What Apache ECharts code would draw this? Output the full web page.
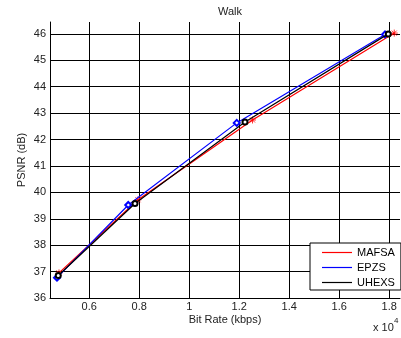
<!DOCTYPE html>
<html>
<head>
<meta charset="utf-8">
<script src="https://cdn.jsdelivr.net/npm/echarts@6/dist/echarts.min.js"></script>
<style>
  html, body { margin: 0; padding: 0; background: #fff; }
  #chart { width: 401px; height: 338px; }
</style>
</head>
<body>
<div id="chart"></div>
<script>
// Rate-distortion curves for the "Walk" sequence (bit rate in kbps, PSNR in dB)
const seriesNames = ['MAFSA', 'EPZS', 'UHEXS'];
const mafsa = [[4790, 36.95], [7950, 39.72], [12530, 42.74], [18200, 46.03]];
const epzs  = [[4710, 36.77], [7560, 39.52], [11900, 42.63], [17830, 45.98]];
const uhexs = [[4760, 36.85], [7830, 39.58], [12230, 42.66], [17960, 46.00]];

const xRange = [4430, 18430];
const yRange = [36, 46.45];

const textColor = '#222';
const fontFamily = '"Liberation Sans", Arial, Helvetica, sans-serif';

// asterisk marker drawn as strokes
const asterisk = 'path://M0,-1L0,1M-1,0L1,0M-0.72,-0.72L0.72,0.72M-0.72,0.72L0.72,-0.72';

const chart = echarts.init(document.getElementById('chart'), null, { renderer: 'canvas' });

chart.setOption({
  animation: false,
  backgroundColor: '#fff',
  textStyle: { fontFamily: fontFamily },
  title: {
    text: 'Walk',
    left: 225, top: 1, textAlign: 'center',
    textStyle: { fontSize: 11, fontWeight: 'normal', color: textColor, fontFamily: fontFamily }
  },
  grid: { left: 50, right: 1, top: 22, bottom: 40 },
  xAxis: {
    type: 'value',
    min: xRange[0], max: xRange[1],
    splitNumber: 7,
    name: 'Bit Rate (kbps)',
    nameLocation: 'middle',
    nameMoveOverlap: false,
    nameGap: 16,
    nameTextStyle: { fontSize: 11, color: textColor, fontFamily: fontFamily },
    axisLine: { show: true, onZero: false, lineStyle: { color: '#000', width: 1 } },
    axisTick: { show: false },
    axisLabel: {
      fontSize: 11, color: textColor, margin: 3, fontFamily: fontFamily,
      showMinLabel: false, showMaxLabel: false,
      formatter: v => String(+(v / 10000).toFixed(1))
    },
    splitLine: { show: true, showMinLine: false, showMaxLine: false, lineStyle: { color: '#000', width: 1 } }
  },
  yAxis: {
    type: 'value',
    min: yRange[0], max: yRange[1],
    interval: 1,
    name: 'PSNR (dB)',
    nameLocation: 'middle',
    nameMoveOverlap: false,
    nameGap: 23,
    nameTextStyle: { fontSize: 11, color: textColor, fontFamily: fontFamily },
    axisLine: { show: true, lineStyle: { color: '#000', width: 1 } },
    axisTick: { show: false },
    axisLabel: { fontSize: 11, color: textColor, margin: 4, showMaxLabel: false, fontFamily: fontFamily },
    splitLine: { show: true, showMinLine: false, showMaxLine: false, lineStyle: { color: '#000', width: 1 } }
  },
  legend: {
    orient: 'vertical',
    left: 310, top: 243,
    icon: 'rect',
    itemWidth: 30, itemHeight: 1.2,
    itemGap: 2,
    padding: [3, 6, 1, 12],
    borderColor: '#000', borderWidth: 1,
    backgroundColor: '#fff',
    itemStyle: { borderWidth: 0 },
    textStyle: { fontSize: 11, color: '#000', lineHeight: 13, fontFamily: fontFamily },
    data: seriesNames
  },
  graphic: [
    { type: 'text', left: 373, top: 322, style: { text: 'x 10', fontSize: 11, fill: textColor, fontFamily: fontFamily } },
    { type: 'text', left: 394, top: 317, style: { text: '4', fontSize: 8, fill: textColor, fontFamily: fontFamily } }
  ],
  series: [
    {
      name: 'MAFSA', type: 'line', data: mafsa,
      symbol: asterisk, symbolSize: 7,
      lineStyle: { color: '#ff0000', width: 1.2 },
      itemStyle: { color: '#ff0000', borderColor: '#ff0000', borderWidth: 0.8 },
      z: 3
    },
    {
      name: 'EPZS', type: 'line', data: epzs,
      symbol: 'emptyDiamond', symbolSize: 6,
      lineStyle: { color: '#0000ff', width: 1.2 },
      itemStyle: { color: '#0000ff', borderWidth: 0.8 },
      z: 4
    },
    {
      name: 'UHEXS', type: 'line', data: uhexs,
      symbol: 'emptyCircle', symbolSize: 5,
      lineStyle: { color: '#000000', width: 1.2 },
      itemStyle: { color: '#000000', borderWidth: 0.8 },
      z: 5
    }
  ]
});
</script>
</body>
</html>
